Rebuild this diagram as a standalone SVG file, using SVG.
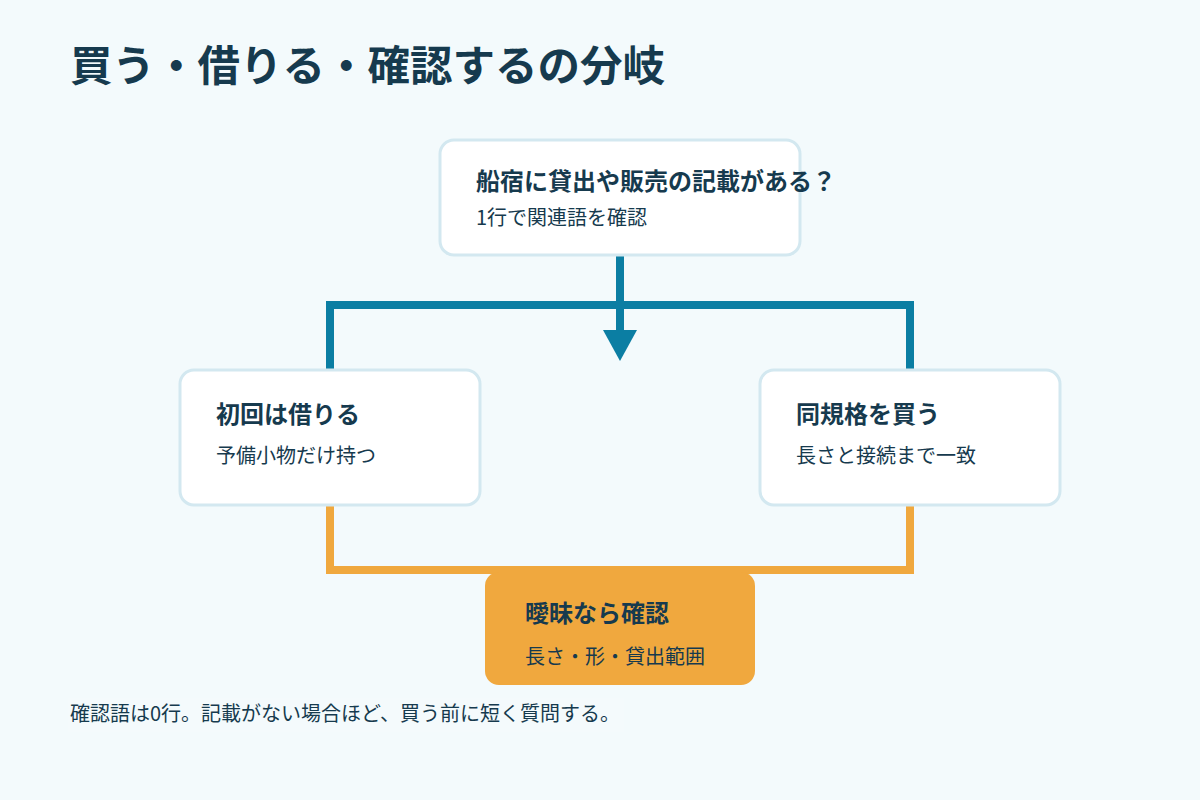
<svg xmlns="http://www.w3.org/2000/svg" width="1200" height="800" viewBox="0 0 1200 800">
  <style>
    text { font-family: "Noto Sans CJK JP", "Noto Sans", sans-serif; fill: #163a4e; }
    .h1 { font-size: 42.5px; font-weight: 700; }
    .t { font-size: 24px; font-weight: 700; }
    .s { font-size: 20px; font-weight: 400; }
    .card { fill: #ffffff; stroke: #d3e8f0; stroke-width: 3; }
    .warn { fill: #f0a83e; }
    .blue { fill: none; stroke: #0b7ea3; stroke-width: 8; }
    .orange { fill: none; stroke: #f0a83e; stroke-width: 8; }
  </style>
  <rect x="0" y="0" width="1200" height="800" fill="#f3fafc"/>
  <text class="h1" x="70" y="81">買う・借りる・確認するの分岐</text>

  <g id="connectors">
    <line class="blue" x1="620" y1="255" x2="620" y2="332"/>
    <polygon points="603,330 637,330 620,361" fill="#0b7ea3"/>
    <polyline class="blue" points="330,370 330,305 910,305 910,370"/>
    <polyline class="orange" points="330,505 330,570 910,570 910,505"/>
  </g>

  <g id="node-question">
    <rect class="card" x="440" y="140" width="360" height="115" rx="14"/>
    <text class="t" x="476" y="190">船宿に貸出や販売の記載がある？</text>
    <text class="s" x="476" y="225">1行で関連語を確認</text>
  </g>

  <g id="node-rent">
    <rect class="card" x="180" y="370" width="300" height="135" rx="14"/>
    <text class="t" x="216" y="423">初回は借りる</text>
    <text class="s" x="216" y="463">予備小物だけ持つ</text>
  </g>

  <g id="node-buy">
    <rect class="card" x="760" y="370" width="300" height="135" rx="14"/>
    <text class="t" x="796" y="423">同規格を買う</text>
    <text class="s" x="796" y="463">長さと接続まで一致</text>
  </g>

  <g id="node-check">
    <rect class="warn" x="485" y="572" width="270" height="113" rx="14"/>
    <text class="t" x="525" y="622">曖昧なら確認</text>
    <text class="s" x="525" y="664">長さ・形・貸出範囲</text>
  </g>

  <g id="note">
    <rect x="68" y="698" width="556" height="34" fill="#ffffff" opacity="0.15"/>
    <text class="s" x="70" y="721">確認語は0行。記載がない場合ほど、買う前に短く質問する。</text>
  </g>
</svg>
